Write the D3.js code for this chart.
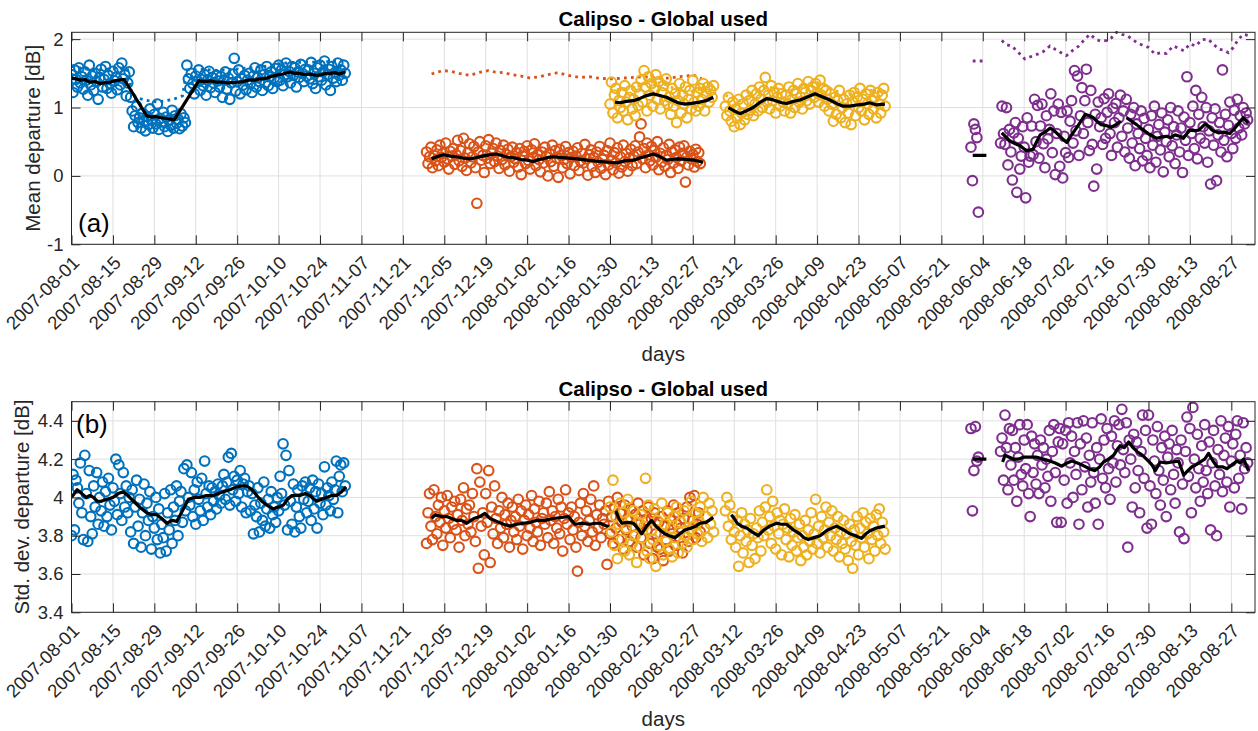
<!DOCTYPE html>
<html>
<head>
<meta charset="utf-8">
<script src="https://cdn.jsdelivr.net/npm/d3@7"></script>
<style>
  body { margin: 0; background: #ffffff; }
  svg { font-family: "Liberation Sans", Arial, Helvetica, sans-serif; }
</style>
</head>
<body>
<svg id="chart" width="1258" height="731"></svg>
<script>
// ---------------------------------------------------------------
// Calipso - Global used : daily departure statistics (two samples per day)
// Days are counted from dayZero; each scatter series starts at a given day.
// ---------------------------------------------------------------
const dayZero = "2007-08-01";
const dayLast = "2008-09-04";
const sampleStep = 0.5; // days between consecutive samples

const tickLabels = [
  "2007-08-01","2007-08-15","2007-08-29","2007-09-12","2007-09-26","2007-10-10",
  "2007-10-24","2007-11-07","2007-11-21","2007-12-05","2007-12-19","2008-01-02",
  "2008-01-16","2008-01-30","2008-02-13","2008-02-27","2008-03-12","2008-03-26",
  "2008-04-09","2008-04-23","2008-05-07","2008-05-21","2008-06-04","2008-06-18",
  "2008-07-02","2008-07-16","2008-07-30","2008-08-13","2008-08-27"
];
const meanTicks = [-1, 0, 1, 2];
const stdTicks = [3.4, 3.6, 3.8, 4, 4.2, 4.4];

// first day of each scatter series
const blueStart = 0, orangeStart = 120, yellowStartA = 182, yellowStartB = 221,
      purpleStartA = 304, purpleStartB = 314;

// ---------- (a) mean departure [dB] ----------
const blueMean = [
  1.48,1.22,1.55,1.41,1.30,1.58,1.36,1.45,1.27,1.52,1.40,1.18,1.62,1.33,1.46,1.25,1.50,1.38,1.12,1.44,
  1.56,1.30,1.41,1.60,1.28,1.47,1.35,1.21,1.53,1.39,1.44,1.26,1.58,1.33,1.65,1.42,1.48,1.17,1.36,1.52,
  1.15,0.95,0.72,0.88,1.02,0.78,0.85,0.70,0.92,0.80,0.66,0.87,0.75,0.98,0.82,0.70,0.90,0.76,1.05,0.68,
  0.84,0.79,0.93,0.72,0.86,0.65,0.81,0.74,0.96,0.70,0.88,0.77,0.83,0.69,0.91,0.73,0.85,0.78,
  1.62,1.42,1.28,1.50,1.35,1.20,1.46,1.38,1.55,1.25,1.41,1.32,1.48,1.18,1.40,1.53,1.29,1.44,1.36,1.22,1.47,1.39,
  1.30,1.45,1.15,1.40,1.52,1.27,1.43,1.12,1.36,1.49,1.72,1.24,1.38,1.55,1.20,1.42,1.33,1.47,1.26,1.40,
  1.50,1.35,1.22,1.46,1.58,1.30,1.44,1.38,1.55,1.25,1.48,1.36,1.60,1.32,1.45,1.52,1.28,1.43,1.57,1.38,
  1.62,1.40,1.55,1.32,1.48,1.65,1.45,1.53,1.36,1.60,1.47,1.58,1.30,1.52,1.44,1.63,1.50,1.38,1.56,1.46,
  1.55,1.42,1.66,1.35,1.50,1.28,1.58,1.45,1.62,1.40,1.52,1.68,1.33,1.48,1.56,1.25,1.60,1.43,1.51,1.38,
  1.65,1.47,1.55,1.40,1.62,1.50
];
const orangeMean = [
  0.35,0.18,0.28,0.42,0.12,0.30,0.22,0.38,0.15,0.45,0.27,0.33,0.20,0.48,0.25,0.10,0.36,0.29,0.40,0.17,
  0.31,0.52,0.22,0.37,0.14,0.55,0.26,0.08,0.34,0.47,0.19,0.28,0.43,0.12,-0.40,0.35,0.50,0.23,0.30,0.05,
  0.44,0.26,0.53,0.18,0.33,0.40,0.21,0.48,0.29,0.11,0.37,0.24,0.45,0.16,0.31,0.39,0.07,0.28,0.42,0.20,
  0.25,0.34,0.13,0.40,0.02,0.29,0.36,0.18,0.44,0.22,0.10,0.38,0.27,0.47,0.15,0.31,0.24,0.06,0.35,0.19,
  0.42,0.28,0.00,0.33,0.21,0.45,0.14,0.37,0.26,-0.02,0.39,0.30,0.12,0.24,0.43,0.18,0.34,0.03,0.27,0.36,
  0.15,0.29,0.41,0.08,0.22,0.33,0.19,0.46,0.25,0.01,0.31,0.38,0.14,0.27,0.05,0.35,0.20,0.43,0.11,0.24,
  0.30,0.02,0.37,0.16,0.48,0.23,0.09,0.34,0.19,0.41,0.04,0.28,0.13,0.45,0.21,0.33,0.07,0.26,0.39,0.15,
  0.29,0.44,0.18,0.35,0.57,0.76,0.25,0.40,0.12,0.48,0.31,0.22,0.43,0.16,0.37,0.27,0.50,0.09,0.33,0.20,
  0.41,0.14,0.30,0.24,0.46,0.05,0.35,0.19,0.38,0.27,0.11,0.42,0.22,0.33,0.44,-0.09,0.28,0.16,0.36,0.25,
  0.31,0.13,0.39,0.21,0.34,0.18
];
const yellowMeanA = [
  1.05,1.37,0.92,1.18,1.28,0.85,1.10,1.00,1.22,0.95,1.32,1.08,0.82,1.15,1.25,0.98,1.12,0.88,1.30,1.03,
  1.20,1.40,1.08,1.54,1.30,0.95,1.45,1.18,1.35,1.02,1.26,1.48,1.12,1.38,0.98,1.22,1.32,1.10,1.42,1.05,
  1.15,0.90,1.28,1.02,1.20,0.78,1.10,1.35,0.92,1.18,1.05,1.30,0.85,1.12,1.25,0.98,1.40,1.08,0.95,1.22,
  1.02,1.28,1.12,1.35,0.95,1.20,1.30,1.08,1.25,1.15,1.32
];
const yellowMeanB = [
  1.02,0.88,1.15,0.95,0.80,1.08,0.72,0.98,0.85,1.12,0.75,0.92,1.05,0.82,1.18,0.90,1.10,0.96,1.25,0.88,
  1.05,1.20,0.95,1.30,1.12,1.00,1.25,1.44,1.08,1.18,0.98,1.32,1.10,1.22,0.92,1.15,1.28,1.02,1.20,1.08,
  0.95,1.18,1.05,1.30,0.92,1.12,1.25,1.00,1.20,1.35,1.08,1.15,0.98,1.28,1.22,1.10,1.38,1.05,1.25,1.30,
  1.15,1.35,1.22,1.08,1.40,1.18,1.28,1.02,1.25,1.12,0.95,1.20,1.05,0.80,1.15,0.90,1.10,1.25,0.85,1.00,
  1.12,0.78,1.05,0.92,1.18,0.75,1.08,1.22,0.88,1.15,1.00,1.28,0.95,1.12,0.82,1.20,1.05,0.90,1.25,1.10,
  0.98,1.15,0.85,1.22,1.05,0.92,1.18,1.28,1.02
];
const purpleMeanA = [0.42,-0.07,0.76,0.68,0.56,-0.53];
const purpleMeanB = [
  0.48,1.02,0.62,0.46,1.00,0.16,0.68,0.35,-0.06,0.63,0.78,-0.24,0.55,0.10,0.29,0.72,0.42,-0.32,0.85,0.20,
  0.29,0.73,0.31,1.12,0.50,1.03,0.26,0.73,1.05,0.47,0.12,0.88,0.54,0.68,1.20,0.34,0.95,0.02,0.62,1.05,
  0.14,0.93,-0.03,0.58,0.34,0.95,0.27,0.80,1.10,0.48,1.54,0.66,1.46,0.30,0.88,1.29,0.62,1.10,1.56,0.78,
  0.37,1.25,0.46,-0.15,0.90,0.10,1.08,0.72,0.85,0.46,1.13,0.55,0.93,1.20,0.62,0.30,0.99,0.78,1.06,0.42,
  0.85,1.18,0.58,0.95,0.35,1.12,0.70,0.26,0.90,0.48,1.00,0.15,0.76,0.62,0.40,0.95,0.22,0.84,0.55,0.30,
  0.68,0.12,0.88,0.45,1.02,0.20,0.58,0.75,0.38,0.92,0.06,0.64,0.50,0.82,0.28,1.00,0.44,0.72,0.18,0.60,
  0.95,0.35,0.70,0.05,0.86,0.52,1.45,0.30,0.78,0.62,1.02,0.40,1.25,0.25,0.90,0.55,1.15,0.72,0.48,1.00,
  0.20,0.66,-0.12,0.85,0.45,0.98,-0.07,0.60,0.78,0.35,1.55,0.52,0.90,0.28,0.74,1.08,0.62,0.40,0.96,0.55,
  1.12,0.70,0.88,0.60,1.00,0.76,0.92,0.82
];

// running mean of the mean departure, [day, dB]
const blueMeanAvg = [[0,1.43],[1.5,1.42],[3,1.40],[4.5,1.41],[6,1.37],[8,1.38],[9.6,1.35],[11,1.36],[13,1.37],[14.5,1.39],[16,1.40],[17.8,1.41],[25.4,0.88],[27,0.86],[28.5,0.87],[30,0.85],[32,0.84],[33.5,0.83],[34.7,0.82],[43,1.39],[45,1.38],[47,1.39],[49,1.37],[51,1.37],[53,1.36],[55.8,1.37],[58,1.38],[60,1.40],[62,1.40],[64,1.42],[66,1.43],[68,1.46],[70,1.48],[71.5,1.49],[73.8,1.52],[75.5,1.50],[77,1.50],[79,1.48],[80.5,1.49],[82.8,1.47],[84.5,1.48],[86,1.50],[87.5,1.50],[89,1.51],[90.5,1.49],[92.5,1.52]];
const orangeMeanAvg = [[121.7,0.25],[123.5,0.28],[125.7,0.31],[128,0.29],[130,0.28],[132.5,0.26],[134.7,0.25],[137,0.27],[139,0.29],[141.5,0.31],[143.7,0.32],[146,0.29],[148,0.27],[150,0.26],[152,0.24],[154,0.23],[156.1,0.21],[158,0.24],[159.5,0.25],[161,0.27],[162.8,0.28],[165,0.27],[168,0.26],[171,0.25],[174.1,0.23],[176.5,0.22],[179,0.21],[181.5,0.20],[184.2,0.19],[187,0.22],[189.9,0.23],[192,0.26],[194.5,0.29],[196.6,0.32],[198.5,0.29],[201.1,0.23],[203,0.24],[205,0.25],[207.9,0.24],[210.5,0.23],[213.5,0.20]];
const yellowMeanAvgA = [[183.7,1.08],[185.5,1.07],[187.5,1.09],[189.9,1.10],[192,1.13],[194,1.17],[196.6,1.20],[198.5,1.18],[201.1,1.15],[203,1.11],[205,1.07],[207.3,1.05],[209.5,1.06],[212.4,1.08],[214.5,1.10],[216.9,1.15]];
const yellowMeanAvgB = [[222,1.00],[224,0.95],[225.9,0.91],[228,0.95],[230.4,1.00],[232.5,1.07],[234.9,1.13],[236.5,1.12],[238,1.10],[240,1.07],[241.7,1.06],[244,1.09],[246.2,1.11],[248.5,1.15],[251.3,1.20],[253.5,1.16],[256.3,1.11],[258.5,1.06],[260.8,1.02],[263,1.02],[265.9,1.04],[268,1.05],[269.7,1.07],[272,1.04],[274.9,1.05]];
const purpleMeanAvgA = [[304.6,0.30],[309.2,0.30]];
const purpleMeanAvgB = [[314.4,0.63],[315.8,0.57],[317.2,0.51],[319,0.47],[320.6,0.44],[321.8,0.40],[322.8,0.37],[324,0.38],[325,0.39],[326.2,0.50],[327.4,0.60],[329,0.64],[330.8,0.70],[332.2,0.66],[333.6,0.60],[335,0.54],[336.4,0.49],[338,0.60],[339.8,0.71],[341.2,0.80],[342.6,0.90],[344,0.88],[345.4,0.85],[346.5,0.80],[348,0.75],[349.5,0.74],[351.3,0.71],[353,0.75],[354.7,0.80]];
const purpleMeanAvgC = [[356.6,0.85],[358.3,0.80],[360,0.75],[362,0.68],[363.9,0.62],[365.5,0.58],[366.8,0.55],[368.5,0.57],[370.2,0.58],[371.5,0.56],[373,0.60],[374.5,0.58],[375.8,0.55],[377,0.62],[378,0.67],[379.5,0.66],[381,0.67],[383.2,0.76],[384.5,0.72],[385.5,0.67],[387.6,0.63],[389.5,0.64],[391.5,0.62],[392.8,0.68],[393.8,0.73],[395,0.80],[396,0.85],[397.7,0.77]];

// reference level (dotted), [day, dB]
const blueRef = [[0,1.60],[4,1.57],[8,1.55],[12,1.56],[16,1.58],[19,1.55],[20.5,1.18],[23,1.13],[26,1.10],[29,1.08],[32,1.10],[35,1.13],[37.5,1.17],[39,1.55],[45,1.56],[50,1.54],[55,1.56],[60,1.58],[65,1.60],[70,1.64],[75,1.66],[80,1.66],[85,1.67],[90,1.68],[92.5,1.70]];
const orangeRef = [[121.7,1.49],[124,1.52],[125.7,1.54],[128,1.53],[131,1.50],[134.7,1.47],[137.5,1.51],[140.8,1.54],[143,1.52],[146,1.51],[149,1.48],[152,1.46],[155,1.43],[158,1.45],[161,1.48],[164.4,1.51],[168,1.47],[171.8,1.44],[175,1.45],[178,1.43],[181,1.42],[183,1.42],[186,1.43],[189.8,1.44],[193,1.45],[196,1.44],[198.9,1.43],[202,1.43],[205,1.45],[207.9,1.46],[210,1.48],[213,1.42]];
const yellowRefA = [[182,1.25],[186,1.27],[190,1.28],[194,1.35],[197,1.38],[201,1.33],[204,1.27],[207,1.22],[210,1.24],[212.5,1.26],[215,1.30],[217,1.32]];
const yellowRefB = [[221,1.18],[223.5,1.14],[226,1.10],[228.5,1.14],[231,1.18],[235,1.30],[238,1.28],[242,1.24],[246,1.29],[249,1.34],[251,1.38],[253.5,1.34],[256,1.29],[258.5,1.24],[261,1.20],[263.5,1.20],[266,1.22],[270,1.25],[272.5,1.24],[275,1.23]];
const purpleRefA = [[304.6,1.68],[309.2,1.68]];
const purpleRefB = [[314.4,1.98],[316,1.92],[317.7,1.90],[319.5,1.83],[322.2,1.71],[324,1.74],[326.5,1.78],[328.5,1.82],[330.7,1.90],[332.5,1.85],[334.5,1.80],[336.3,1.76],[338.5,1.84],[340.5,1.90],[342.5,2.00],[344.2,2.07],[346.5,1.99],[348,1.97],[349.9,1.98],[351.5,2.02],[353.2,2.10],[355,2.07],[356.8,2.05],[358.5,2.00],[360,1.95],[362,1.91],[364,1.88],[366.2,1.78],[368,1.80],[370,1.79],[372.4,1.90],[374.5,1.86],[376,1.83],[378,1.93],[380,1.90],[382,1.99],[384.2,2.00],[386,1.92],[388,1.85],[389.5,1.84],[391,1.80],[392.5,1.87],[394.3,1.99],[396,2.07],[398.3,2.05]];

// ---------- (b) std. dev. departure [dB] ----------
const blueStd = [
  3.80,4.12,3.83,4.09,4.05,3.97,4.18,3.92,3.78,4.22,4.02,3.77,4.14,3.90,3.81,4.06,3.95,4.13,3.86,4.00,
  3.93,4.08,3.85,4.03,3.90,4.10,3.96,3.83,4.05,3.98,4.20,3.91,4.17,4.02,3.88,4.13,3.95,4.06,3.92,4.00,
  3.82,4.04,3.76,3.95,4.09,3.85,3.99,3.74,3.92,4.07,3.80,3.97,3.88,4.03,3.73,3.90,3.84,4.00,3.78,3.94,
  3.71,3.86,3.79,4.02,3.72,3.92,3.83,4.04,3.76,3.95,3.88,4.06,3.80,3.98,4.03,3.87,4.15,3.93,4.17,4.00,
  3.96,4.13,3.90,4.04,3.86,4.08,3.99,3.93,4.10,3.88,4.19,4.02,3.95,4.06,3.91,4.05,3.98,4.03,3.94,4.07,
  4.01,3.97,4.06,4.12,3.99,4.08,4.21,3.96,4.23,4.04,4.11,3.98,4.09,4.02,4.14,3.95,4.07,4.10,3.92,4.03,
  4.06,3.93,4.02,3.81,3.96,3.90,4.05,3.82,3.97,3.88,4.08,3.85,3.94,3.99,3.84,4.03,3.91,3.95,3.87,4.00,
  3.93,4.11,4.02,4.28,3.96,4.22,3.83,4.14,3.98,3.86,4.07,3.82,3.95,4.04,3.90,3.84,4.06,3.99,4.08,3.92,
  3.98,4.05,3.88,4.09,3.94,4.03,3.84,4.07,3.97,4.02,3.91,4.16,3.96,4.05,4.01,3.93,4.08,3.99,4.04,4.19,
  3.92,4.11,4.17,4.03,4.18,4.06
];
const orangeStd = [
  3.76,3.92,4.02,3.85,3.78,4.04,3.90,3.81,3.96,3.87,4.00,3.75,3.93,3.84,4.01,3.89,3.79,3.95,3.86,3.98,
  3.83,3.91,3.74,3.99,3.88,4.05,3.80,3.94,3.86,3.96,3.82,4.02,3.90,3.77,4.15,3.63,4.08,3.85,3.92,3.70,
  4.02,3.87,4.14,3.66,3.95,3.81,4.06,3.89,3.76,3.93,3.84,4.00,3.79,3.91,3.86,3.97,3.74,3.88,3.95,3.82,
  3.90,3.78,3.99,3.85,3.93,3.73,3.88,3.96,3.80,3.91,3.84,4.01,3.77,3.94,3.87,3.82,3.98,3.75,3.89,3.92,
  3.86,3.97,3.79,4.03,3.88,3.93,3.76,3.90,3.84,3.99,3.81,3.95,3.72,3.89,4.04,3.86,3.92,3.78,3.95,3.83,
  3.90,3.74,3.615,3.87,3.97,3.80,4.02,3.85,3.93,3.77,3.88,3.99,3.82,4.06,3.75,3.91,3.84,3.96,3.79,3.89,
  3.86,3.93,3.65,3.98,3.81,3.90,3.76,3.95,3.84,4.00,3.78,3.92,3.87,3.73,3.96,3.83,3.89,3.77,3.94,3.85,
  3.80,3.91,3.74,3.97,3.86,3.79,3.93,3.70,3.88,3.83,3.95,3.76,3.89,3.68,3.92,3.81,3.74,3.87,3.73,3.90,
  3.67,3.85,3.78,3.93,3.72,3.88,3.81,3.96,3.75,3.86,3.92,3.79,3.84,3.71,3.89,3.80,3.95,3.77,4.00,3.83,
  3.88,4.01,3.79,3.86,3.92,3.82
];
const yellowStdA = [
  3.95,3.82,4.09,3.75,3.90,3.68,3.86,3.97,3.78,3.92,3.72,3.84,3.99,3.70,3.88,3.76,3.93,3.80,3.66,3.87,
  3.74,3.91,3.79,3.85,4.10,3.72,3.96,3.68,3.83,3.78,3.94,3.64,3.88,3.75,3.81,3.97,3.70,3.86,3.77,3.92,
  3.73,3.84,3.69,3.90,3.79,3.95,3.71,3.82,3.87,3.76,3.93,3.80,3.74,3.89,3.83,3.98,3.78,3.85,3.92,3.81,
  3.88,3.95,3.77,4.00,3.84,3.90,3.79,3.97,3.86,3.93,3.82
];
const yellowStdB = [
  3.93,4.00,3.85,3.96,3.78,3.90,3.82,3.74,3.88,3.64,3.80,3.92,3.71,3.86,3.77,3.83,3.66,3.89,3.75,3.81,
  3.68,3.84,3.79,3.93,3.72,3.87,3.80,3.95,4.04,3.83,3.90,3.76,3.98,3.85,3.73,3.92,3.81,3.88,3.70,3.86,
  3.94,3.78,3.84,3.69,3.89,3.75,3.82,3.91,3.72,3.79,3.86,3.67,3.80,3.74,3.88,3.70,3.83,3.77,3.92,3.73,
  3.81,3.99,3.76,3.85,3.71,3.90,3.79,3.83,3.95,3.74,3.87,3.80,3.93,3.72,3.84,3.78,3.90,3.69,3.82,3.76,
  3.88,3.73,3.81,3.67,3.86,3.77,3.63,3.83,3.75,3.90,3.70,3.84,3.79,3.92,3.74,3.87,3.81,3.68,3.89,3.78,
  3.85,3.72,3.91,3.80,3.94,3.76,3.87,3.82,3.73
];
const purpleStdA = [4.36,3.93,4.14,4.37,4.19,4.21];
const purpleStdB = [
  4.24,4.31,4.09,4.43,4.26,4.04,4.36,4.17,4.35,4.09,4.26,3.98,4.21,4.38,4.12,4.06,4.30,4.15,4.38,4.02,
  3.90,4.32,4.13,4.28,4.07,4.22,4.02,4.30,4.17,4.26,4.05,4.20,4.11,4.35,3.98,4.24,4.38,4.13,3.87,4.29,
  4.36,3.87,4.28,4.09,4.35,3.97,4.39,4.18,4.32,4.00,4.24,4.12,4.39,3.86,4.28,4.04,4.40,4.16,4.31,3.95,
  4.22,4.08,4.39,4.13,3.97,4.26,3.86,4.20,4.41,4.10,4.30,4.05,4.36,4.15,3.99,4.32,4.18,4.40,4.08,4.27,
  4.38,4.17,4.46,4.25,4.13,4.39,3.74,4.30,4.20,3.95,4.33,4.05,4.29,4.14,3.92,4.24,4.43,4.10,4.35,3.84,
  4.43,4.06,3.86,4.30,4.19,4.02,4.37,4.14,3.96,4.26,4.09,4.32,3.90,4.21,4.28,4.04,4.35,4.12,3.97,4.25,
  4.18,3.82,4.30,4.07,3.785,4.24,4.42,4.11,4.36,3.92,4.47,4.20,4.05,4.33,4.15,3.98,4.27,4.08,4.38,4.14,
  4.02,4.29,3.83,4.18,4.35,4.06,3.80,4.25,4.12,4.40,4.03,4.22,4.31,4.08,4.37,3.95,4.19,4.28,4.05,4.33,
  4.40,4.10,4.22,3.94,4.39,4.15,4.26,4.18
];

// running mean of the std. dev. departure, [day, dB]
const blueStdAvg = [[0,4.00],[1.9,4.04],[3.5,4.02],[5,4.00],[6.2,4.01],[7.4,4.00],[8.7,3.98],[10,3.98],[12,3.99],[14,4.00],[15.8,4.02],[17.5,4.03],[19,4.01],[21,3.98],[23,3.95],[25.4,3.92],[27,3.91],[28.8,3.91],[30.5,3.89],[32.2,3.865],[34,3.88],[35.6,3.875],[37.5,3.93],[39.5,3.99],[41.5,4.00],[43.4,4.00],[45.5,4.01],[48,4.01],[49.5,4.02],[51.4,4.03],[53.5,4.04],[55.8,4.055],[57.5,4.06],[59.2,4.06],[61,4.04],[62.6,4.01],[64.3,3.98],[66,3.96],[68.2,3.94],[70,3.95],[71.6,3.96],[73,3.99],[74.5,4.01],[77.2,4.01],[79,4.02],[80.6,4.01],[82,3.99],[82.9,3.98],[84.5,3.99],[86.2,4.00],[88,4.01],[89.6,4.01],[91.3,4.03],[92.8,4.055]];
const orangeStdAvg = [[121.7,3.89],[123,3.91],[125,3.90],[126.8,3.90],[128.5,3.89],[130,3.88],[131.8,3.88],[133.6,3.865],[135,3.88],[136,3.89],[138,3.90],[139.7,3.917],[141.5,3.89],[143.7,3.875],[146,3.86],[148.2,3.85],[150.5,3.86],[152.7,3.865],[155,3.87],[157.2,3.88],[160,3.88],[162.8,3.89],[165.5,3.895],[167.9,3.90],[169,3.88],[170.2,3.86],[172.5,3.865],[175.2,3.86],[177,3.865],[178.6,3.865],[180.2,3.855],[181.8,3.845]];
const yellowStdAvgA = [[184,3.93],[185,3.89],[186,3.865],[188,3.87],[189.9,3.865],[191.3,3.84],[192.7,3.81],[194.4,3.85],[196.1,3.88],[197.5,3.85],[198.9,3.83],[200.5,3.81],[202,3.80],[204,3.79],[205.6,3.81],[207.3,3.83],[209.5,3.84],[211,3.85],[212.4,3.865],[214.5,3.87],[216.9,3.896]];
const yellowStdAvgB = [[223,3.91],[224,3.89],[225,3.865],[226.5,3.85],[228.2,3.84],[230,3.82],[232.1,3.80],[234,3.83],[236,3.85],[238.3,3.865],[240,3.86],[241.7,3.86],[244,3.83],[246.2,3.81],[247.5,3.79],[249,3.78],[251,3.79],[253,3.80],[255.5,3.83],[258.6,3.85],[261,3.83],[263.1,3.81],[265,3.80],[267,3.786],[268.5,3.81],[269.9,3.826],[272,3.84],[274.9,3.85]];
const purpleStdAvgA = [[304.6,4.2],[309.2,4.2]];
const purpleStdAvgB = [[314.7,4.185],[315.5,4.22],[317,4.21],[318.3,4.20],[320,4.20],[321.7,4.21],[324,4.21],[326.2,4.21],[328.5,4.20],[330.7,4.19],[332.5,4.18],[334.7,4.163],[336.5,4.18],[338.1,4.19],[340,4.18],[342,4.166],[344,4.15],[345.9,4.14],[347.5,4.16],[348.8,4.185],[350.5,4.20],[352.2,4.22],[353.4,4.25],[354.4,4.27],[355.8,4.26],[357.3,4.29],[358.8,4.26],[360.1,4.24],[362,4.22],[364,4.19],[365.2,4.17],[366.3,4.14],[368,4.185],[370,4.18],[372,4.185],[374.2,4.19],[375.9,4.116],[377.3,4.14],[378.7,4.16],[380,4.17],[381.5,4.185],[383,4.20],[384.3,4.23],[385.8,4.19],[387.2,4.16],[389,4.16],[390.5,4.15],[392.2,4.17],[393.9,4.19],[395,4.18],[396.2,4.20],[397.8,4.14]];

// ---------------------------------------------------------------
const COLORS = { blue: "#0072BD", orange: "#D95319", yellow: "#EDB120", purple: "#7E2F8E" };
const INK = "#262626";

const parse = d3.utcParse("%Y-%m-%d");
const t0 = parse(dayZero);
const dayToDate = d => new Date(t0.getTime() + d * 864e5);
const tickDates = tickLabels.map(parse);

const svg = d3.select("#chart");
const margin = { left: 71.5, right: 1255 };
const x = d3.scaleUtc().domain([t0, parse(dayLast)]).range([margin.left, margin.right]);

function samples(values, start) {
  return values.map((v, i) => ({ t: dayToDate(start + i * sampleStep), v }));
}
function pairs(list) {
  return list.map(([d, v]) => ({ t: dayToDate(d), v }));
}

function drawPanel(cfg) {
  const g = svg.append("g");
  const y = d3.scaleLinear().domain(cfg.yDomain).range([cfg.bottom, cfg.top]);
  const w = margin.right - margin.left, h = cfg.bottom - cfg.top;

  // grid
  const grid = g.append("g").attr("stroke", "#dfdfdf").attr("stroke-width", 1);
  grid.selectAll("line.v").data(tickDates).join("line")
    .attr("x1", d => x(d)).attr("x2", d => x(d))
    .attr("y1", cfg.top).attr("y2", cfg.bottom);
  grid.selectAll("line.h").data(cfg.yTicks).join("line")
    .attr("x1", margin.left).attr("x2", margin.right)
    .attr("y1", d => y(d)).attr("y2", d => y(d));

  const clipId = "clip-" + cfg.id;
  g.append("clipPath").attr("id", clipId).append("rect")
    .attr("x", margin.left).attr("y", cfg.top - 2).attr("width", w).attr("height", h + 2);
  const plot = g.append("g").attr("clip-path", `url(#${clipId})`);

  const line = d3.line().x(d => x(d.t)).y(d => y(d.v));

  // dotted reference levels sit under the scatter
  (cfg.refs || []).forEach(r => {
    plot.append("path").datum(pairs(r.data)).attr("d", line)
      .attr("fill", "none").attr("stroke", r.color).attr("stroke-width", 2.8)
      .attr("stroke-dasharray", "2.8,4.2");
  });

  cfg.groups.forEach(grp => {
    grp.scatter.forEach(s => {
      plot.append("g").selectAll("circle").data(samples(s.values, s.start)).join("circle")
        .attr("cx", d => x(d.t)).attr("cy", d => y(d.v)).attr("r", 4.8)
        .attr("fill", "none").attr("stroke", grp.color).attr("stroke-width", 2.1);
    });
    grp.avg.forEach(a => {
      plot.append("path").datum(pairs(a)).attr("d", line)
        .attr("fill", "none").attr("stroke", "#000").attr("stroke-width", 3.2)
        .attr("stroke-linejoin", "round");
    });
  });

  // axes: ticks pointing inward on all sides
  const ax = g.append("g").attr("color", INK);
  const bottom = ax.append("g").attr("transform", `translate(0,${cfg.bottom})`)
    .call(d3.axisBottom(x).tickValues(tickDates).tickSizeInner(-9).tickSizeOuter(0)
      .tickFormat((d, i) => tickLabels[i]));
  bottom.selectAll("text")
    .attr("font-size", 18.5).attr("fill", INK)
    .attr("text-anchor", "end").attr("y", null).attr("dy", "0.35em")
    .attr("transform", "translate(4,15) rotate(-45)");
  ax.append("g").attr("transform", `translate(0,${cfg.top})`)
    .call(d3.axisTop(x).tickValues(tickDates).tickSizeInner(-9).tickSizeOuter(0).tickFormat(""));
  const left = ax.append("g").attr("transform", `translate(${margin.left},0)`)
    .call(d3.axisLeft(y).tickValues(cfg.yTicks).tickSizeInner(-9).tickSizeOuter(0).tickPadding(8)
      .tickFormat(d => String(d)));
  left.selectAll("text").attr("font-size", 18.5).attr("fill", INK);
  ax.append("g").attr("transform", `translate(${margin.right},0)`)
    .call(d3.axisRight(y).tickValues(cfg.yTicks).tickSizeInner(-9).tickSizeOuter(0).tickFormat(""));
  ax.selectAll(".domain").remove();
  ax.selectAll(".tick line").attr("stroke", INK);
  ax.append("rect").attr("x", margin.left).attr("y", cfg.top).attr("width", w).attr("height", h)
    .attr("fill", "none").attr("stroke", INK).attr("stroke-width", 1);

  // texts
  g.append("text").attr("x", (margin.left + margin.right) / 2).attr("y", cfg.top - 6)
    .attr("text-anchor", "middle").attr("font-weight", "bold").attr("font-size", 20.5)
    .attr("fill", "#000").text(cfg.title);
  g.append("text").attr("x", (margin.left + margin.right) / 2).attr("y", cfg.xLabelY)
    .attr("text-anchor", "middle").attr("font-size", 20.5).attr("fill", INK).text("days");
  g.append("text").attr("transform", `translate(${cfg.yLabelX},${(cfg.top + cfg.bottom) / 2}) rotate(-90)`)
    .attr("text-anchor", "middle").attr("font-size", 20.5).attr("fill", INK).text(cfg.yLabel);
  g.append("text").attr("x", cfg.letterX).attr("y", cfg.letterY)
    .attr("font-size", 26).attr("fill", "#000").text(cfg.letter);
}

drawPanel({
  id: "a", top: 32.3, bottom: 244.3, yDomain: [-1, 2.1], yTicks: meanTicks,
  title: "Calipso - Global used", yLabel: "Mean departure [dB]", yLabelX: 40, xLabelY: 361,
  letter: "(a)", letterX: 78, letterY: 232,
  refs: [
    { data: blueRef, color: COLORS.blue },
    { data: orangeRef, color: COLORS.orange },
    { data: yellowRefA, color: COLORS.yellow },
    { data: yellowRefB, color: COLORS.yellow },
    { data: purpleRefA, color: COLORS.purple },
    { data: purpleRefB, color: COLORS.purple }
  ],
  groups: [
    { color: COLORS.blue, scatter: [{ values: blueMean, start: blueStart }], avg: [blueMeanAvg] },
    { color: COLORS.orange, scatter: [{ values: orangeMean, start: orangeStart }], avg: [orangeMeanAvg] },
    { color: COLORS.yellow, scatter: [{ values: yellowMeanA, start: yellowStartA }, { values: yellowMeanB, start: yellowStartB }], avg: [yellowMeanAvgA, yellowMeanAvgB] },
    { color: COLORS.purple, scatter: [{ values: purpleMeanA, start: purpleStartA }, { values: purpleMeanB, start: purpleStartB }], avg: [purpleMeanAvgA, purpleMeanAvgB, purpleMeanAvgC] }
  ]
});

drawPanel({
  id: "b", top: 401.7, bottom: 612.3, yDomain: [3.4, 4.5], yTicks: stdTicks,
  title: "Calipso - Global used", yLabel: "Std. dev. departure [dB]", yLabelX: 29, xLabelY: 726,
  letter: "(b)", letterX: 76, letterY: 433,
  groups: [
    { color: COLORS.blue, scatter: [{ values: blueStd, start: blueStart }], avg: [blueStdAvg] },
    { color: COLORS.orange, scatter: [{ values: orangeStd, start: orangeStart }], avg: [orangeStdAvg] },
    { color: COLORS.yellow, scatter: [{ values: yellowStdA, start: yellowStartA }, { values: yellowStdB, start: yellowStartB }], avg: [yellowStdAvgA, yellowStdAvgB] },
    { color: COLORS.purple, scatter: [{ values: purpleStdA, start: purpleStartA }, { values: purpleStdB, start: purpleStartB }], avg: [purpleStdAvgA, purpleStdAvgB] }
  ]
});
</script>
</body>
</html>
